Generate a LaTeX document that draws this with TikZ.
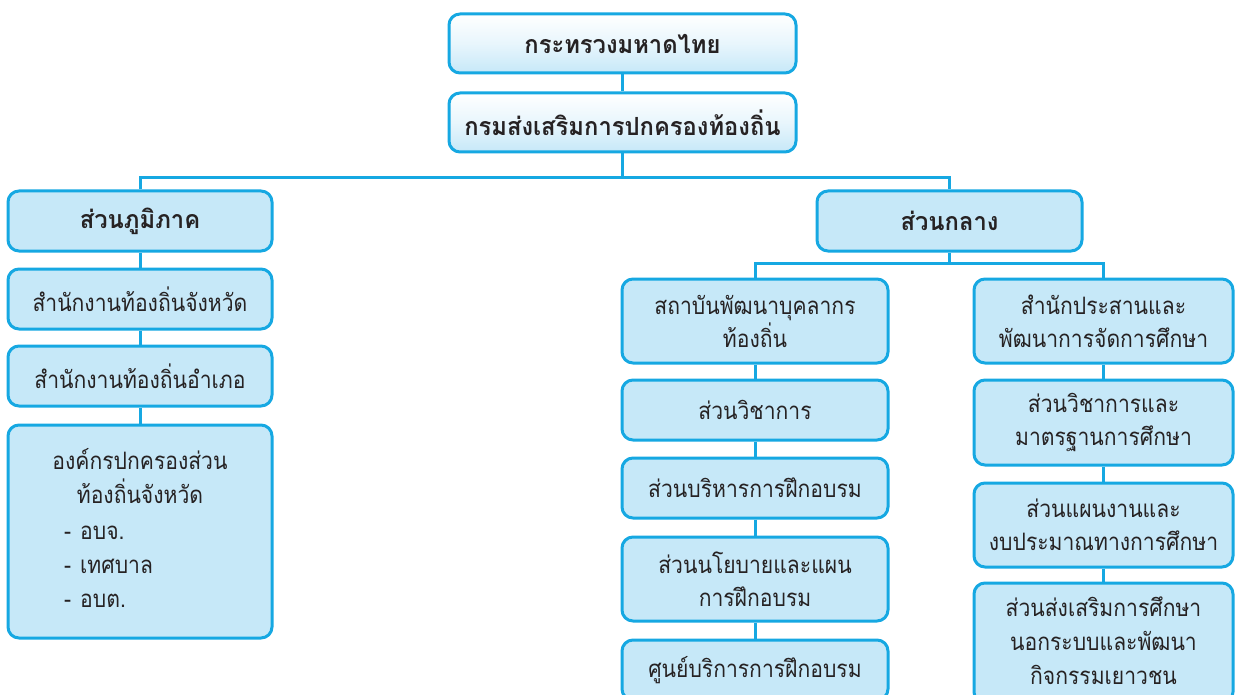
\documentclass[tikz,border=0pt]{standalone}
\usepackage{fontspec}
\newfontfamily\thai[Script=Thai,FakeStretch=0.88]{Loma}
\newfontfamily\thaiB[Script=Thai,FakeStretch=0.95]{Loma}
\definecolor{cyanline}{RGB}{22,168,226}
\definecolor{boxfill}{RGB}{198,232,248}
\definecolor{txt}{RGB}{38,34,35}
\begin{document}
\begin{tikzpicture}[x=1pt,y=-1pt,
  box/.style={draw=cyanline, line width=3pt, fill=boxfill, rounded corners=11pt,
    inner sep=0pt, text=txt, align=center, minimum width=264pt, minimum height=60pt,
    font=\thai\fontsize{24}{33}\selectfont},
  head/.style={box, font=\thaiB\bfseries\fontsize{25}{30}\selectfont},
  topbox/.style={head, top color=white, bottom color=boxfill, middle color=white!60!boxfill},
  link/.style={draw=cyanline, line width=3pt},
  plain/.style={inner sep=0pt, text=txt, font=\thai\fontsize{24}{33}\selectfont}]
\useasboundingbox (0,0) rectangle (1236,695);
\clip (0,0) rectangle (1236,695);

% top
\node[topbox, minimum width=347pt, minimum height=59pt] (moi) at (622.5,43.5) {กระทรวงมหาดไทย};
\node[topbox, minimum width=347pt, minimum height=59pt] (dla) at (622.5,122.5) {กรมส่งเสริมการปกครองท้องถิ่น};

% left column
\node[head] (reg) at (140,221) {ส่วนภูมิภาค};
\node[box] (l1) at (140,299) {สำนักงานท้องถิ่นจังหวัด};
\node[box] (l2) at (140,376) {สำนักงานท้องถิ่นอำเภอ};
\node[box, minimum height=213pt] (l3) at (140,531.5) {};
\node[plain, anchor=base] (l3a) at (140,469) {องค์กรปกครองส่วน};
\node[plain, anchor=base] (l3b) at (140,503) {ท้องถิ่นจังหวัด};
\node[plain, anchor=base west] (l3c) at (64,539) {-\hspace{9pt}อบจ.};
\node[plain, anchor=base west] (l3d) at (64,573) {-\hspace{9pt}เทศบาล};
\node[plain, anchor=base west] (l3e) at (64,607) {-\hspace{9pt}อบต.};

% central
\node[head, minimum width=265pt] (cen) at (949.5,221) {ส่วนกลาง};

% middle column
\node[box, minimum width=266pt, minimum height=84pt] (m1) at (755,321) {สถาบันพัฒนาบุคลากร\\ท้องถิ่น};
\node[box, minimum width=266pt] (m2) at (755,410) {ส่วนวิชาการ};
\node[box, minimum width=266pt] (m3) at (755,488) {ส่วนบริหารการฝึกอบรม};
\node[box, minimum width=266pt, minimum height=84pt] (m4) at (755,579) {ส่วนนโยบายและแผน\\การฝึกอบรม};
\node[box, minimum width=266pt, minimum height=60pt] (m5) at (755,670) {ศูนย์บริการการฝึกอบรม};

% right column
\node[box, minimum width=259pt, minimum height=84pt] (r1) at (1103.5,321) {สำนักประสานและ\\พัฒนาการจัดการศึกษา};
\node[box, minimum width=259pt, minimum height=85pt] (r2) at (1103.5,422.5) {ส่วนวิชาการและ\\มาตรฐานการศึกษา};
\node[box, minimum width=259pt, minimum height=84pt] (r3) at (1103.5,525) {ส่วนแผนงานและ\\งบประมาณทางการศึกษา};
\node[box, minimum width=259pt, minimum height=120pt] (r4) at (1103.5,643) {};
\node[plain, anchor=base] (r4a) at (1103.5,616) {ส่วนส่งเสริมการศึกษา};
\node[plain, anchor=base] (r4b) at (1103.5,650) {นอกระบบและพัฒนา};
\node[plain, anchor=base] (r4c) at (1103.5,684) {กิจกรรมเยาวชน};

% connectors
\coordinate (j1) at (622.5,178);
\coordinate (j2) at (949.5,263);
\draw[link] (moi.south) -- (dla.north);
\draw[link] (dla.south) -- (j1);
\draw[link] (reg.north) |- (j1) -| (cen.north);
\draw[link] (reg.south) -- (l1.north);
\draw[link] (l1.south) -- (l2.north);
\draw[link] (l2.south) -- (l3.north);
\draw[link] (cen.south) -- (j2);
\draw[link] (m1.north) |- (j2) -| (r1.north);
\draw[link] (m1.south) -- (m2.north);
\draw[link] (m2.south) -- (m3.north);
\draw[link] (m3.south) -- (m4.north);
\draw[link] (m4.south) -- (m5.north);
\draw[link] (r1.south) -- (r2.north);
\draw[link] (r2.south) -- (r3.north);
\draw[link] (r3.south) -- (r4.north);
\end{tikzpicture}
\end{document}
